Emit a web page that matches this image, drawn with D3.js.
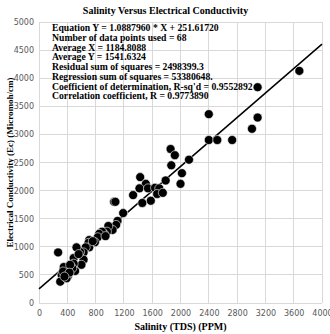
<!DOCTYPE html>
<html><head><meta charset="utf-8">
<script src="https://cdn.jsdelivr.net/npm/d3@7"></script>
<style>body{margin:0;background:#fff}svg{display:block}</style>
</head><body>
<script>
const salinity = [3680,3090,2400,3090,3010,2400,2520,2730,2120,1860,1920,1870,2020,2000,1790,
 1430,1510,1420,1540,1640,1700,1670,1750,1330,1580,1460,1060,1080,1190,1110,
 1090,1040,980,960,920,890,850,830,790,710,700,710,660,630,580,530,
 630,600,490,490,510,450,410,410,380,350,320,300,270,390,470,340,440,560,760,430,940,360];
const conductivity = [4130,3840,3360,3300,3100,2900,2900,2900,2550,2740,2630,2450,2310,2120,2180,
 2240,2120,2040,2040,2050,2040,1940,1960,1920,1820,1780,1800,1800,1600,1460,
 1390,1300,1370,1270,1230,1270,1230,1170,1080,1120,1070,990,990,900,910,990,
 770,680,800,700,570,650,590,480,520,640,500,380,900,440,620,560,680,870,1100,540,1190,470];
const xTicks = [0,400,800,1200,1600,2000,2400,2800,3200,3600,4000];
const yTicks = [0,500,1000,1500,2000,2500,3000,3500,4000,4500,5000];
const slope = 1.0887960, intercept = 251.61720;
const statsLines = [
 "Equation Y = 1.0887960 * X + 251.61720",
 "Number of data points used = 68",
 "Average X = 1184.8088",
 "Average Y = 1541.6324",
 "Residual sum of squares = 2498399.3",
 "Regression sum of squares = 53380648.",
 "Coefficient of determination, R-sq'd = 0.9552892",
 "Correlation coefficient, R = 0.9773890"
];
const title = "Salinity Versus Electrical Conductivity";
const xTitle = "Salinity (TDS) (PPM)";
const yTitle = "Electrical Conductivity (Ec) (Micromoh/cm)";

const W = 330, H = 334;
const m = {l:39, r:322, t:22, b:303};
const svg = d3.select("body").append("svg").attr("width",W).attr("height",H);
const x = d3.scaleLinear().domain([0,4000]).range([m.l,m.r]);
const y = d3.scaleLinear().domain([0,5000]).range([m.b,m.t]);

const serif = "'Liberation Serif','Times New Roman',serif";
const sans = "'DejaVu Sans',sans-serif";

// grid
svg.append("g").selectAll("line").data(xTicks).join("line")
  .attr("x1",d=>x(d)).attr("x2",d=>x(d)).attr("y1",m.t).attr("y2",m.b)
  .attr("stroke","#d9d9d9").attr("stroke-width",1).attr("shape-rendering","crispEdges");
svg.append("g").selectAll("line").data(yTicks).join("line")
  .attr("x1",m.l).attr("x2",m.r).attr("y1",d=>y(d)).attr("y2",d=>y(d))
  .attr("stroke","#d9d9d9").attr("stroke-width",1).attr("shape-rendering","crispEdges");

// axes (labels only)
const xAxis = svg.append("g").attr("transform",`translate(0,${m.b})`)
  .call(d3.axisBottom(x).tickValues(xTicks).tickSize(0).tickPadding(7).tickFormat(d3.format("d")));
const yAxis = svg.append("g").attr("transform",`translate(${m.l},0)`)
  .call(d3.axisLeft(y).tickValues(yTicks).tickSize(0).tickPadding(5).tickFormat(d3.format("d")));
[xAxis,yAxis].forEach(g=>{
  g.select(".domain").remove();
  g.selectAll("text").attr("font-family",sans).attr("font-size",8).attr("fill","#595959");
});

// regression line
svg.append("line")
  .attr("x1",x(0)).attr("y1",y(intercept))
  .attr("x2",x(4000)).attr("y2",y(slope*4000+intercept))
  .attr("stroke","#000").attr("stroke-width",1.5);

// stats text
svg.append("g").selectAll("text").data(statsLines).join("text")
  .attr("x",52).attr("y",(d,i)=>31.3+i*9.7)
  .attr("font-family",serif).attr("font-weight","bold").attr("font-size",9.7)
  .attr("fill","#000").text(d=>d);

// points
const pts = salinity.map((v,i)=>({x:v,y:conductivity[i]}));
svg.append("g").selectAll("circle").data(pts).join("circle")
  .attr("cx",d=>x(d.x)).attr("cy",d=>y(d.y)).attr("r",4.5)
  .attr("fill","#000").attr("stroke","#fff").attr("stroke-width",0.6);

// titles
svg.append("text").attr("x",165.5).attr("y",14).attr("text-anchor","middle")
  .attr("font-family",serif).attr("font-weight","bold").attr("font-size",10).text(title);
svg.append("text").attr("x",(m.l+m.r)/2).attr("y",330).attr("text-anchor","middle")
  .attr("font-family",serif).attr("font-weight","bold").attr("font-size",10).text(xTitle);
svg.append("text").attr("transform",`translate(13,${(m.t+m.b)/2}) rotate(-90)`).attr("text-anchor","middle")
  .attr("font-family",serif).attr("font-weight","bold").attr("font-size",9).text(yTitle);
</script>
</body></html>
